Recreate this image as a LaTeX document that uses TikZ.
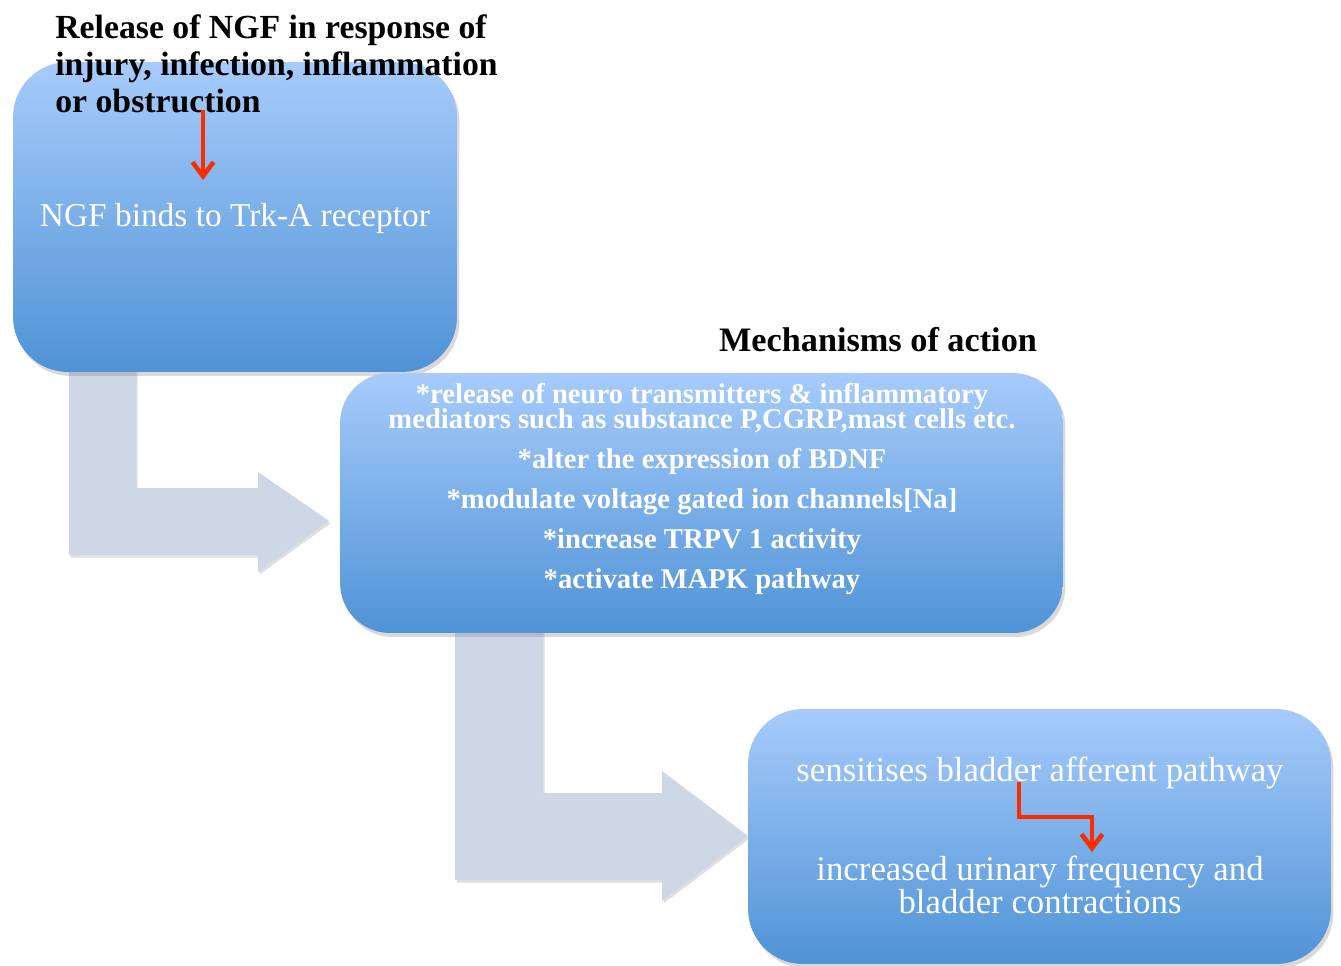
\documentclass[tikz,border=0pt]{standalone}
\usepackage{fontspec}
\setmainfont{Liberation Serif}
\usetikzlibrary{shadows,arrows.meta}
\definecolor{boxtop}{RGB}{167,203,251}
\definecolor{boxbot}{RGB}{79,147,214}
\definecolor{elbowgrey}{RGB}{205,215,230}
\definecolor{arrred}{RGB}{250,45,0}
\newcommand{\mechfont}{\bfseries\fontsize{16.3}{14.2}\selectfont\lineskiplimit=-10pt\relax}

\begin{document}
\begin{tikzpicture}[x=0.02cm, y=-0.02cm,
  box/.style={rounded corners=1.1cm, top color=boxtop, bottom color=boxbot,
    drop shadow={opacity=0.3, shadow xshift=0.05cm, shadow yshift=-0.08cm}},
  elbow/.style={fill=elbowgrey, drop shadow={opacity=0.25, shadow xshift=0.03cm, shadow yshift=-0.05cm}},
  redline/.style={draw=arrred, line width=2.6pt, -{Straight Barb[length=8pt, width=12pt, line width=2.6pt]}},
  heading/.style={font=\bfseries\fontsize{19.2}{21.3}\selectfont, inner sep=0pt},
  plaintext/.style={text=white, font=\fontsize{19}{18.5}\selectfont, align=center, inner sep=0pt}]
\useasboundingbox (0,0) rectangle (1341,966);

% grey elbow arrows
\fill[elbow] (69,360) -- (136,360) -- (136,488) -- (258,488) -- (258,472) -- (329,521)
  -- (258,572) -- (258,555) -- (69,555) -- cycle;
\fill[elbow] (455,630) -- (543,630) -- (543,793) -- (662,793) -- (662,771) -- (748,836)
  -- (662,901) -- (662,880) -- (455,880) -- cycle;

% boxes
\node[box, minimum width=8.88cm, minimum height=6.2cm] (box1) at (235,217) {};
\node[box, minimum width=14.46cm, minimum height=5.2cm, rounded corners=1cm] (box2) at (701.5,503) {};
\node[box, minimum width=11.66cm, minimum height=5.1cm] (box3) at (1039.5,836.5) {};

% texts
\node[heading, anchor=north west, align=left] (release) at (55,14)
  {Release of NGF in response of\\injury, infection, inflammation\\or obstruction};
\node[plaintext] (binds) at (235,218) {NGF binds to Trk-A receptor};
\node[heading, font=\bfseries\fontsize{19.5}{21}\selectfont] (mechtitle) at (878,340) {Mechanisms of action};
\node[text=white, align=center, inner sep=0pt, font=\mechfont] (mech) at (702,489)
  {*release of neuro transmitters \& inflammatory\\mediators such as substance P,CGRP,mast cells etc.\\[8.5pt]
   *alter the expression of BDNF\\[8.5pt]
   *modulate voltage gated ion channels[Na]\\[8.5pt]
   *increase TRPV 1 activity\\[8.5pt]
   *activate MAPK pathway};
\node[plaintext, font=\fontsize{19.8}{18.5}\selectfont] (sensitise) at (1040,773) {sensitises bladder afferent pathway};
\node[plaintext, font=\fontsize{19.8}{18.5}\selectfont] (frequency) at (1040,885) {increased urinary frequency and\\bladder contractions};

% red arrows
\coordinate (r1a) at (203,110);
\coordinate (r1b) at (203,180);
\draw[redline] (r1a) -- (r1b);
\coordinate (r2a) at (1019,782);
\coordinate (r2c) at (1092,817);
\coordinate (r2b) at (1092,852);
\draw[redline] (r2a) |- (r2c) -- (r2b);
\end{tikzpicture}
\end{document}
